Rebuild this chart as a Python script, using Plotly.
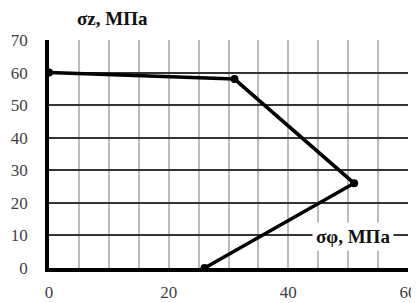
import plotly.graph_objects as go

sigma_phi = [0, 31, 51, 26]
sigma_z = [60, 58, 26, 0]
x_ticks = [0, 20, 40, 60]
y_ticks = [0, 10, 20, 30, 40, 50, 60, 70]

fig = go.Figure()
fig.add_trace(go.Scatter(
    x=sigma_phi, y=sigma_z, mode="lines+markers",
    line=dict(color="black", width=3.5),
    marker=dict(color="black", size=8),
    cliponaxis=False, showlegend=False,
))

font_tick = dict(family="Liberation Serif, Times New Roman, serif", size=17, color="#404040")
font_lab = dict(family="Liberation Serif, Times New Roman, serif", size=19, color="#111")

# page body has an 8px margin, so the figure is shrunk to fit the 419x303 window
fig.update_layout(
    width=411, height=295,
    margin=dict(l=41, r=11, t=32, b=35),
    paper_bgcolor="white", plot_bgcolor="white",
    xaxis=dict(
        range=[0, 60], tickvals=x_ticks, ticktext=[str(v) for v in x_ticks],
        showgrid=True, gridcolor="#bbbbbb", gridwidth=1.5,
        minor=dict(tick0=0, dtick=5, showgrid=True, gridcolor="#bbbbbb", gridwidth=1.5),
        zeroline=False, showline=True, linecolor="black", linewidth=3.5,
        tickfont=font_tick, ticks="", ticklabelstandoff=6, automargin=False,
    ),
    yaxis=dict(
        range=[0, 70], tickvals=y_ticks, ticktext=[str(v) for v in y_ticks],
        showgrid=True, gridcolor="#333333", gridwidth=1.5,
        zeroline=False, showline=True, linecolor="black", linewidth=3.5,
        tickfont=font_tick, ticks="", ticklabelstandoff=14, automargin=False,
    ),
    annotations=[
        dict(x=0.177, y=1.095, xref="paper", yref="paper", text="<b>σz, МПа</b>",
             xanchor="center", yanchor="middle",
             showarrow=False, font=font_lab),
        dict(x=50.8, y=9.8, xref="x", yref="y", text="<b>σφ, МПа</b>",
             showarrow=False, bgcolor="white", borderpad=3, font=font_lab),
    ],
)

fig.write_html("out.html")
